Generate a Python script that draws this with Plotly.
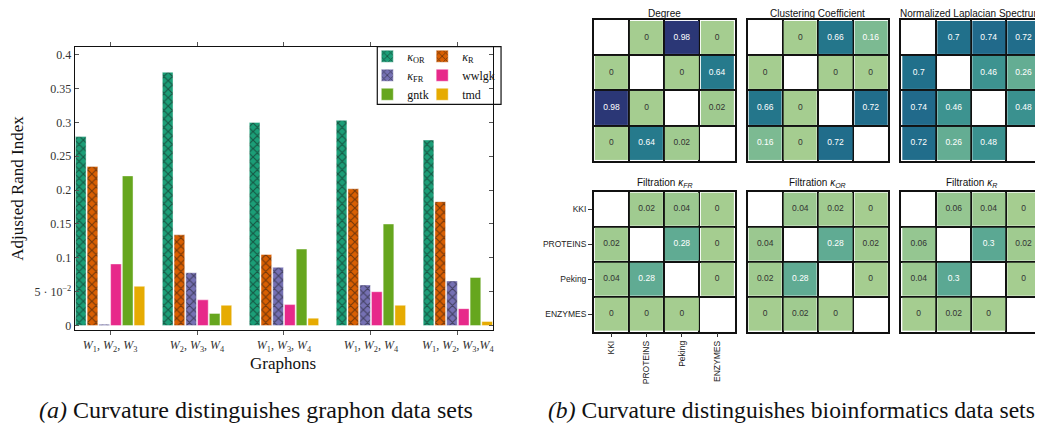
import plotly.graph_objects as go

# page body has an 8px default margin: the figure is drawn 8px in from the window corner
OFF = 8
W, H = 1043 - OFF, 423 - OFF

# ---------------- data: bar chart ----------------
group_labels = [
    "<i>W</i><sub>1</sub>, <i>W</i><sub>2</sub>, <i>W</i><sub>3</sub>",
    "<i>W</i><sub>2</sub>, <i>W</i><sub>3</sub>, <i>W</i><sub>4</sub>",
    "<i>W</i><sub>1</sub>, <i>W</i><sub>3</sub>, <i>W</i><sub>4</sub>",
    "<i>W</i><sub>1</sub>, <i>W</i><sub>2</sub>, <i>W</i><sub>4</sub>",
    "<i>W</i><sub>1</sub>, <i>W</i><sub>2</sub>, <i>W</i><sub>3</sub>,<i>W</i><sub>4</sub>",
]
series_names = ["<i>κ</i><sub>OR</sub>", "<i>κ</i><sub>R</sub>", "<i>κ</i><sub>FR</sub>",
                "wwlgk", "gntk", "tmd"]
kappa_or = [0.279, 0.374, 0.300, 0.303, 0.274]
kappa_r = [0.235, 0.134, 0.105, 0.202, 0.183]
kappa_fr = [0.002, 0.078, 0.086, 0.060, 0.066]
wwlgk = [0.091, 0.038, 0.031, 0.050, 0.025]
gntk = [0.221, 0.018, 0.113, 0.150, 0.071]
tmd = [0.058, 0.030, 0.011, 0.030, 0.006]
series_values = [kappa_or, kappa_r, kappa_fr, wwlgk, gntk, tmd]
series_colors = ["#1b9e77", "#d95f02", "#7570b3", "#e7298a", "#66a61e", "#e6ab02"]
series_hatched = [True, True, True, False, False, False]
series_legend = ["legend", "legend2", "legend", "legend2", "legend", "legend2"]

y_tickvals = [0, 0.05, 0.1, 0.15, 0.2, 0.25, 0.3, 0.35, 0.4]
y_ticktext = ["0", "5 · 10<sup>−2</sup>", "0.1", "0.15", "0.2", "0.25", "0.3", "0.35", "0.4"]

# ---------------- data: heatmaps ----------------
datasets = ["KKI", "PROTEINS", "Peking", "ENZYMES"]
heat_titles = ["Degree", "Clustering Coefficient", "Normalized Laplacian Spectrum",
               "Filtration <i>κ<sub>FR</sub></i>", "Filtration <i>κ<sub>OR</sub></i>",
               "Filtration <i>κ<sub>R</sub></i>"]
degree = [[None, 0, 0.98, 0], [0, None, 0, 0.64], [0.98, 0, None, 0.02], [0, 0.64, 0.02, None]]
clustering = [[None, 0, 0.66, 0.16], [0, None, 0, 0], [0.66, 0, None, 0.72], [0.16, 0, 0.72, None]]
laplacian = [[None, 0.7, 0.74, 0.72], [0.7, None, 0.46, 0.26], [0.74, 0.46, None, 0.48],
             [0.72, 0.26, 0.48, None]]
filt_fr = [[None, 0.02, 0.04, 0], [0.02, None, 0.28, 0], [0.04, 0.28, None, 0], [0, 0, 0, None]]
filt_or = [[None, 0.04, 0.02, 0], [0.04, None, 0.28, 0.02], [0.02, 0.28, None, 0], [0, 0.02, 0, None]]
filt_r = [[None, 0.06, 0.04, 0], [0.06, None, 0.3, 0.02], [0.04, 0.3, None, 0], [0, 0.02, 0, None]]
heat_values = [degree, clustering, laplacian, filt_fr, filt_or, filt_r]

crest = [[0.0, "#a5cd90"], [0.1, "#8bc191"], [0.2, "#72b592"], [0.3, "#5ba893"],
         [0.4, "#479b91"], [0.5, "#378e8f"], [0.6, "#29808c"], [0.7, "#21708b"],
         [0.8, "#22608b"], [0.9, "#284d88"], [1.0, "#2c3172"]]


def fx(p):
    return (p - OFF) / W


def fy(p):
    return 1 - (p - OFF) / H


fig = go.Figure()

# ---------------- bars ----------------
for name, vals, col, hatch, leg in zip(series_names, series_values, series_colors,
                                       series_hatched, series_legend):
    marker = dict(color=col, line=dict(color="rgba(255,255,255,0.55)", width=0.8))
    if hatch:
        marker["pattern"] = dict(shape="x", fgcolor="#111111", size=6, solidity=0.35)
    fig.add_trace(go.Bar(x=list(range(len(vals))), y=vals, name=name, marker=marker,
                         xaxis="x", yaxis="y", legend=leg))

serif = "Liberation Serif"
sans = "Liberation Sans"

layout = dict(
    width=W, height=H, autosize=False,
    margin=dict(l=0, r=0, t=0, b=0),
    paper_bgcolor="white", plot_bgcolor="white",
    barmode="group", bargap=0.19, bargroupgap=0.09,
    showlegend=True,
    font=dict(family=serif, color="#222222"),
    xaxis=dict(domain=[fx(75), fx(494)], anchor="y", range=[-0.405, 4.405],
               tickvals=list(range(len(group_labels))), ticktext=group_labels,
               showline=True, mirror="ticks", linecolor="#111111", linewidth=1.3,
               ticks="outside", ticklen=4, tickcolor="#555555", showgrid=False,
               zeroline=False, tickfont=dict(family=serif, size=12, color="#333333")),
    yaxis=dict(domain=[fy(332), fy(47)], anchor="x", range=[-0.006, 0.4117],
               tickvals=y_tickvals, ticktext=y_ticktext,
               showline=True, mirror="ticks", linecolor="#111111", linewidth=1.3,
               ticks="inside", ticklen=4, tickcolor="#555555", showgrid=False,
               zeroline=False, tickfont=dict(family=serif, size=12, color="#333333")),
    legend=dict(x=fx(368), y=fy(42), xanchor="left", yanchor="top",
                bgcolor="rgba(0,0,0,0)", borderwidth=0, tracegroupgap=0,
                itemwidth=30, font=dict(family=serif, size=12, color="#111111")),
    legend2=dict(x=fx(423), y=fy(42), xanchor="left", yanchor="top",
                 bgcolor="rgba(0,0,0,0)", borderwidth=0, tracegroupgap=0,
                 itemwidth=30, font=dict(family=serif, size=12, color="#111111")),
)


def note(text, x, y, size, family, angle=0):
    return dict(text=text, x=fx(x), y=fy(y), xref="paper", yref="paper",
                xanchor="center", yanchor="middle", textangle=angle, showarrow=False,
                font=dict(family=family, size=size, color="#111111"))


annotations = [
    note("Adjusted Rand Index", 18, 189, 17, serif, -90),
    note("Graphons", 284, 366, 17, serif),
    note("<i>(a)</i> Curvature distinguishes graphon data sets", 256, 413, 24, serif),
    note("<i>(b)</i> Curvature distinguishes bioinformatics data sets", 793, 413, 23.6, serif),
]

shapes = [dict(type="rect", xref="paper", yref="paper", x0=fx(378), x1=fx(502),
               y0=fy(47), y1=fy(105), line=dict(color="#111111", width=1.2),
               fillcolor="rgba(0,0,0,0)", layer="above")]

# ---------------- heatmaps ----------------
col_px = [(595, 736), (749, 890), (903, 1043)]
row_px = [(20, 162), (193, 334)]
title_y = [14, 184]

for k, (title, mat) in enumerate(zip(heat_titles, heat_values)):
    r, c = divmod(k, 3)
    ax = k + 2
    xa, ya = f"x{ax}", f"y{ax}"
    fig.add_trace(go.Heatmap(z=mat, x=list(range(4)), y=list(range(4)), zmin=0, zmax=1,
                             colorscale=crest, showscale=False, xgap=2, ygap=2,
                             hoverinfo="skip", xaxis=xa, yaxis=ya))
    tx, ty, tt, tc = [], [], [], []
    for i, row in enumerate(mat):
        for j, v in enumerate(row):
            if v is None:
                continue
            tx.append(j)
            ty.append(i)
            tt.append(f"{v:g}")
            tc.append("white" if v > 0.1 else "#333333")
    fig.add_trace(go.Scatter(x=tx, y=ty, text=tt, mode="text", showlegend=False,
                             hoverinfo="skip", textfont=dict(family=sans, size=8.5, color=tc),
                             xaxis=xa, yaxis=ya))
    labelled = (k == 3)
    x0, x1 = col_px[c]
    y0, y1 = row_px[r]
    common = dict(showline=True, mirror=True, linecolor="#111111", linewidth=1.6,
                  showgrid=False, zeroline=False,
                  minor=dict(tick0=0.5, dtick=1, showgrid=True, gridcolor="#111111",
                             gridwidth=1.6, ticks=""),
                  tickvals=list(range(4)), ticktext=datasets,
                  showticklabels=labelled, ticks="outside" if labelled else "",
                  ticklen=4, tickcolor="#333333",
                  tickfont=dict(family=sans, size=8.5, color="#222222"))
    layout[f"xaxis{ax}"] = dict(domain=[fx(x0), fx(x1)], anchor=ya, range=[-0.5, 3.5],
                                tickangle=-90, **common)
    layout[f"yaxis{ax}"] = dict(domain=[fy(y1), fy(y0)], anchor=xa, range=[3.5, -0.5],
                                **common)
    annotations.append(note(title, (x0 + x1) / 2, title_y[r], 10, sans))

layout["annotations"] = annotations
layout["shapes"] = shapes
fig.update_layout(**layout)

fig.write_html("out.html")
